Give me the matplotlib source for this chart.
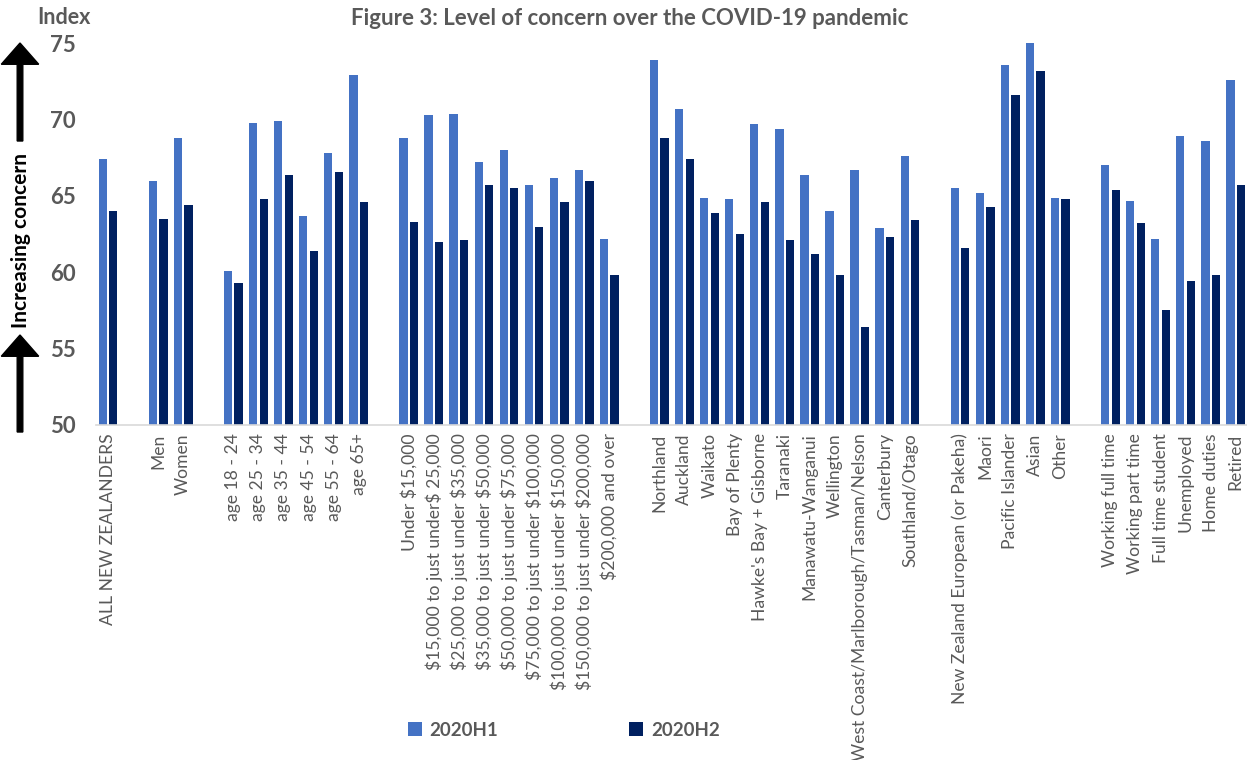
import numpy as np
import matplotlib
matplotlib.use("Agg")
from matplotlib import pyplot as plt
from matplotlib.patches import FancyArrow

plt.rcParams['font.family'] = ['Lato', 'DejaVu Sans']
plt.rcParams['text.parse_math'] = False  # labels contain dollar signs

# groups of respondents, each with its 2020H1 / 2020H2 index
all_labels = ["ALL NEW ZEALANDERS"]
all_h1 = [67.4]
all_h2 = [64.0]

gender_labels = ["Men", "Women"]
gender_h1 = [66.0, 68.8]
gender_h2 = [63.5, 64.4]

age_labels = ["age 18 - 24", "age 25 - 34", "age 35 - 44", "age 45 - 54", "age 55 - 64", "age 65+"]
age_h1 = [60.1, 69.8, 69.9, 63.7, 67.8, 72.9]
age_h2 = [59.3, 64.8, 66.4, 61.4, 66.6, 64.6]

income_labels = ["Under $15,000", "$15,000 to just under$ 25,000", "$25,000 to just under $35,000",
                 "$35,000 to just under $50,000", "$50,000 to just under $75,000",
                 "$75,000 to just under $100,000", "$100,000 to just under $150,000",
                 "$150,000 to just under $200,000", "$200,000 and over"]
income_h1 = [68.8, 70.3, 70.4, 67.2, 68.0, 65.7, 66.2, 66.7, 62.2]
income_h2 = [63.3, 62.0, 62.1, 65.7, 65.5, 63.0, 64.6, 66.0, 59.8]

region_labels = ["Northland", "Auckland", "Waikato", "Bay of Plenty", "Hawke's Bay + Gisborne",
                 "Taranaki", "Manawatu-Wanganui", "Wellington",
                 "West Coast/Marlborough/Tasman/Nelson", "Canterbury", "Southland/Otago"]
region_h1 = [73.9, 70.7, 64.9, 64.8, 69.7, 69.4, 66.4, 64.0, 66.7, 62.9, 67.6]
region_h2 = [68.8, 67.4, 63.9, 62.5, 64.6, 62.1, 61.2, 59.8, 56.4, 62.3, 63.4]

ethnic_labels = ["New Zealand European (or Pakeha)", "Maori", "Pacific Islander", "Asian", "Other"]
ethnic_h1 = [65.5, 65.2, 73.6, 75.0, 64.9]
ethnic_h2 = [61.6, 64.3, 71.6, 73.2, 64.8]

work_labels = ["Working full time", "Working part time", "Full time student", "Unemployed",
               "Home duties", "Retired"]
work_h1 = [67.0, 64.7, 62.2, 68.9, 68.6, 72.6]
work_h2 = [65.4, 63.2, 57.5, 59.4, 59.8, 65.7]

groups = [
    (all_labels, all_h1, all_h2),
    (gender_labels, gender_h1, gender_h2),
    (age_labels, age_h1, age_h2),
    (income_labels, income_h1, income_h2),
    (region_labels, region_h1, region_h2),
    (ethnic_labels, ethnic_h1, ethnic_h2),
    (work_labels, work_h1, work_h2),
]

# one empty category between groups, like the spreadsheet layout
labels, h1, h2 = [], [], []
for k, (lab, a, b) in enumerate(groups):
    if k > 0:
        labels.append("")
        h1.append(np.nan)
        h2.append(np.nan)
    labels += lab
    h1 += a
    h2 += b
h1 = np.array(h1)
h2 = np.array(h2)
x = np.arange(len(labels))

C_H1 = "#4472C4"
C_H2 = "#002060"
GREY = "#595959"

fig = plt.figure(figsize=(12.47, 7.6), dpi=100)
ax = fig.add_axes([0.0766, 0.4408, 0.9244, 0.5022])

w = 0.33
ax.bar(x - 0.21, h1 - 50, w, bottom=50, color=C_H1, label="2020H1")
ax.bar(x + 0.21, h2 - 50, w, bottom=50, color=C_H2, label="2020H2")

ax.set_xlim(-0.5, len(labels) - 0.5)
ax.set_ylim(50, 75)
ax.set_yticks([50, 55, 60, 65, 70, 75])
ax.tick_params(axis="y", length=0, pad=14, labelsize=16, labelcolor=GREY)
for t in ax.get_yticklabels():
    t.set_fontweight("bold")
ax.set_xticks(x)
ax.set_xticklabels(labels, rotation=90, fontsize=12.6, color=GREY)
ax.tick_params(axis="x", length=0, pad=6)

for s in ["top", "right", "left"]:
    ax.spines[s].set_visible(False)
ax.spines["bottom"].set_color("#D9D9D9")
ax.spines["bottom"].set_linewidth(1.2)

fig.text(0.505, 0.976, "Figure 3: Level of concern over the COVID-19 pandemic",
         ha="center", va="center", fontsize=16, fontweight="bold", color=GREY)
fig.text(0.051, 0.977, "Index", ha="center", va="center", fontsize=15.5,
         fontweight="bold", color=GREY)

# arrow on the left, broken by the caption
fig.text(0.0165, 0.684, "Increasing concern", rotation=90, ha="center", va="center",
         fontsize=15, fontweight="bold", color="black")
for y0, y1 in [(432, 335), (141, 43)]:
    fig.add_artist(FancyArrow(20 / 1247, 1 - y0 / 760, 0, (y0 - y1) / 760,
                              width=0.0045, head_width=0.03, head_length=0.028,
                              length_includes_head=True, color="black",
                              transform=fig.transFigure))

leg = fig.legend(loc="center", bbox_to_anchor=(0.452, 0.039), ncol=2, frameon=False,
                 handlelength=0.75, handleheight=0.75, handletextpad=0.4, columnspacing=7.0,
                 fontsize=13.5)
for t in leg.get_texts():
    t.set_fontweight("bold")
    t.set_color(GREY)

fig.savefig("out.png", dpi=100)
